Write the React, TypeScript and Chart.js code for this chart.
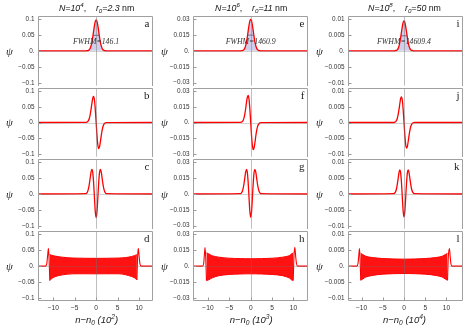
import React, { useEffect, useRef } from 'react';
import { Chart, registerables } from 'chart.js';
Chart.register(...registerables);

// ---------- data ----------
const PEAK_X = [-14, -2.4, -2.2, -2.0, -1.8, -1.6, -1.4, -1.2, -1.0, -0.8, -0.6, -0.4, -0.2, 0, 0.2, 0.4, 0.6, 0.8, 1.0, 1.2, 1.4, 1.6, 1.8, 2.0, 2.2, 2.4, 14];

const GROUND_1 = [0, 0.0001, 0.0002, 0.0005, 0.0014, 0.0035, 0.0076, 0.015, 0.026, 0.042, 0.061, 0.079, 0.092, 0.097, 0.092, 0.079, 0.061, 0.042, 0.026, 0.015, 0.0076, 0.0035, 0.0014, 0.0005, 0.0002, 0.0001, 0];
const GROUND_2 = [0, 0, 0.0001, 0.0002, 0.0004, 0.0011, 0.0023, 0.0046, 0.0081, 0.0129, 0.0186, 0.0241, 0.0282, 0.0297, 0.0282, 0.0241, 0.0186, 0.0129, 0.0081, 0.0046, 0.0023, 0.0011, 0.0004, 0.0002, 0.0001, 0, 0];
const GROUND_3 = [0, 0, 0, 0.0001, 0.0001, 0.0003, 0.0007, 0.0014, 0.0026, 0.0041, 0.0059, 0.0076, 0.0089, 0.0094, 0.0089, 0.0076, 0.0059, 0.0041, 0.0026, 0.0014, 0.0007, 0.0003, 0.0001, 0.0001, 0, 0, 0];

const FIRST_1 = [0, 0.0003, 0.0009, 0.0024, 0.0059, 0.0126, 0.024, 0.041, 0.06, 0.077, 0.083, 0.072, 0.042, 0, -0.042, -0.072, -0.083, -0.077, -0.06, -0.041, -0.024, -0.0126, -0.0059, -0.0024, -0.0009, -0.0003, 0];
const FIRST_2 = [0, 0.0001, 0.0003, 0.0008, 0.0018, 0.004, 0.0076, 0.0127, 0.0189, 0.024, 0.026, 0.0225, 0.0131, 0, -0.0131, -0.0225, -0.026, -0.024, -0.0189, -0.0127, -0.0076, -0.004, -0.0018, -0.0008, -0.0003, -0.0001, 0];
const FIRST_3 = [0, 0, 0.0001, 0.0002, 0.0006, 0.0012, 0.0024, 0.004, 0.0059, 0.0076, 0.0082, 0.0071, 0.0041, 0, -0.0041, -0.0071, -0.0082, -0.0076, -0.0059, -0.004, -0.0024, -0.0012, -0.0006, -0.0002, -0.0001, 0, 0];

const SECOND_1 = [0, 0.001, 0.003, 0.0074, 0.016, 0.03, 0.049, 0.068, 0.077, 0.069, 0.037, -0.01, -0.056, -0.074, -0.056, -0.01, 0.037, 0.069, 0.077, 0.068, 0.049, 0.03, 0.016, 0.0074, 0.003, 0.001, 0];
const SECOND_2 = [0, 0.0003, 0.0009, 0.0022, 0.0048, 0.009, 0.0146, 0.0204, 0.0233, 0.0207, 0.0111, -0.003, -0.0165, -0.022, -0.0165, -0.003, 0.0111, 0.0207, 0.0233, 0.0204, 0.0146, 0.009, 0.0048, 0.0022, 0.0009, 0.0003, 0];
const SECOND_3 = [0, 0.0001, 0.0003, 0.0007, 0.0015, 0.0029, 0.0047, 0.0066, 0.0076, 0.0067, 0.0036, -0.001, -0.0054, -0.0072, -0.0054, -0.001, 0.0036, 0.0067, 0.0076, 0.0066, 0.0047, 0.0029, 0.0015, 0.0007, 0.0003, 0.0001, 0];

// highly excited state: edge peaks + envelope of the dense oscillation
const D1_LEFT_X = [-14, -11.8, -11.5, -11.3, -11.12, -10.97, -10.8];
const D1_LEFT_Y = [0, 0, 0.008, 0.034, 0.056, 0.025, -0.045];
const D1_ENV_X = [-10.8, -10.3, -9.4, -7.8, -5.5, 0, 5.5, 6.9, 8.2, 8.9, 9.5];
const D1_UPPER = [0.036, 0.034, 0.031, 0.028, 0.0256, 0.0245, 0.0256, 0.027, 0.03, 0.033, 0.036];
const D1_LOWER = [-0.045, -0.038, -0.032, -0.027, -0.024, -0.024, -0.024, -0.027, -0.032, -0.036, -0.043];
const D1_RIGHT_X = [9.5, 9.65, 9.82, 10.0, 10.2, 10.5, 14];
const D1_RIGHT_Y = [-0.043, 0.025, 0.056, 0.034, 0.008, 0, 0];

const D2_LEFT_X = [-14, -11.3, -11.0, -10.85, -10.68, -10.52, -10.35];
const D2_LEFT_Y = [0, 0, 0.0025, 0.01, 0.0175, 0.008, -0.0135];
const D2_ENV_X = [-10.35, -9.9, -9.0, -7.5, -5, 0, 5, 7.5, 9.0, 9.5, 9.95];
const D2_UPPER = [0.0125, 0.0118, 0.0098, 0.0085, 0.0075, 0.007, 0.0075, 0.0085, 0.0098, 0.0115, 0.0125];
const D2_LOWER = [-0.0135, -0.013, -0.011, -0.009, -0.0078, -0.0072, -0.0078, -0.009, -0.011, -0.0128, -0.0135];
const D2_RIGHT_X = [9.95, 10.1, 10.32, 10.5, 10.7, 11.0, 14];
const D2_RIGHT_Y = [-0.0135, 0.008, 0.0178, 0.01, 0.0025, 0, 0];

const D3_LEFT_X = [-14, -11.1, -10.85, -10.68, -10.5, -10.35, -10.2];
const D3_LEFT_Y = [0, 0, 0.0008, 0.003, 0.0055, 0.0025, -0.0044];
const D3_ENV_X = [-10.2, -9.8, -9.0, -7.5, -5, 0, 5, 7.5, 9.0, 9.8, 10.25];
const D3_UPPER = [0.004, 0.0037, 0.0031, 0.0027, 0.0024, 0.0022, 0.0024, 0.0027, 0.0031, 0.0037, 0.004];
const D3_LOWER = [-0.0044, -0.0041, -0.0034, -0.0029, -0.0025, -0.0023, -0.0025, -0.0029, -0.0034, -0.0041, -0.0044];
const D3_RIGHT_X = [10.25, 10.42, 10.7, 10.88, 11.05, 11.3, 14];
const D3_RIGHT_Y = [-0.0044, 0.0025, 0.0055, 0.003, 0.0008, 0, 0];

const FWHM_HALF_WIDTH = [0.73, 0.73, 0.73];
const HALF_MAX = [0.0485, 0.0148, 0.0047];
const FWHM_LABELS = ['FWHM=146.1', 'FWHM=1460.9', 'FWHM=14609.4'];

const X_RANGES = [[-13.55, 13.25], [-13.5, 13.4], [-13.2, 13.9]];
const X_TICKS = [-10, -5, 0, 5, 10];
const X_TICK_LABELS = ['\u221210', '\u22125', '0', '5', '10'];

const Y_LIMITS = [0.109, 0.0328, 0.0109];
const Y_TICKS_1 = [-0.1, -0.05, 0, 0.05, 0.1];
const Y_TICKS_2 = [-0.03, -0.015, 0, 0.015, 0.03];
const Y_TICKS_3 = [-0.01, -0.005, 0, 0.005, 0.01];
const Y_TICK_LABELS_1 = ['\u22120.1', '\u22120.05', '0.', '0.05', '0.1'];
const Y_TICK_LABELS_2 = ['\u22120.03', '\u22120.015', '0.', '0.015', '0.03'];
const Y_TICK_LABELS_3 = ['\u22120.01', '\u22120.005', '0.', '0.005', '0.01'];

const TITLE_EXP = ['4', '6', '8'];
const TITLE_R0 = ['2.3', '11', '50'];
const AXIS_EXP = ['2', '3', '4'];
const PANEL_LETTERS = [['a', 'b', 'c', 'd'], ['e', 'f', 'g', 'h'], ['i', 'j', 'k', 'l']];

// ---------- layout ----------
const AREA_LEFT = [38, 193, 348];
const AREA_W = 115;
const AXIS_W = 38;
const ROW_TOP = [16, 87, 158, 230];
const ROW_H = [71, 71, 72, 71];
const PAGE_H = 329;
const XAXIS_H = 28;

const SANS = '"Liberation Sans", Arial, sans-serif';
const SERIF = '"Liberation Serif", "Times New Roman", serif';
const RED = '#ff0000';

const toPts = (xs: number[], ys: number[]) => xs.map((x, i) => ({ x, y: ys[i] }));

const COLS = [
  { ground: GROUND_1, first: FIRST_1, second: SECOND_1, lx: D1_LEFT_X, ly: D1_LEFT_Y, ex: D1_ENV_X, up: D1_UPPER, lo: D1_LOWER, rx: D1_RIGHT_X, ry: D1_RIGHT_Y, yt: Y_TICKS_1, yl: Y_TICK_LABELS_1 },
  { ground: GROUND_2, first: FIRST_2, second: SECOND_2, lx: D2_LEFT_X, ly: D2_LEFT_Y, ex: D2_ENV_X, up: D2_UPPER, lo: D2_LOWER, rx: D2_RIGHT_X, ry: D2_RIGHT_Y, yt: Y_TICKS_2, yl: Y_TICK_LABELS_2 },
  { ground: GROUND_3, first: FIRST_3, second: SECOND_3, lx: D3_LEFT_X, ly: D3_LEFT_Y, ex: D3_ENV_X, up: D3_UPPER, lo: D3_LOWER, rx: D3_RIGHT_X, ry: D3_RIGHT_Y, yt: Y_TICKS_3, yl: Y_TICK_LABELS_3 },
];

type Seg = { t: string; it?: boolean; sup?: boolean; sub?: boolean };

function drawRich(ctx: CanvasRenderingContext2D, segs: Seg[], cx: number, base: number, size: number, family: string) {
  const fontFor = (s: Seg) => `${s.it ? 'italic ' : ''}${s.sup || s.sub ? size * 0.7 : size}px ${family}`;
  const widths = segs.map((s) => {
    ctx.font = fontFor(s);
    return ctx.measureText(s.t).width;
  });
  const total = widths.reduce((a, b) => a + b, 0);
  let x = cx - total / 2;
  ctx.textAlign = 'left';
  ctx.textBaseline = 'alphabetic';
  segs.forEach((s, i) => {
    ctx.font = fontFor(s);
    const dy = s.sup ? -size * 0.4 : s.sub ? size * 0.25 : 0;
    ctx.fillText(s.t, x, base + dy);
    x += widths[i];
  });
}

function makeDeco(col: number, row: number) {
  return {
    id: 'deco',
    afterDatasetsDraw(chart: any) {
      const { ctx, chartArea: a, scales } = chart;
      const xs = scales.x;
      const ys = scales.y;
      const x0 = Math.round(xs.getPixelForValue(0)) + 0.5;
      const y0 = Math.round(ys.getPixelForValue(0)) + 0.5;
      const L = Math.round(a.left) + 0.5;
      const R = Math.round(a.right) - 0.5;
      const T = Math.round(a.top) + 0.5;
      const B = Math.round(a.bottom) - 0.5;
      ctx.save();
      ctx.lineWidth = 1;
      // axes through the origin
      ctx.strokeStyle = 'rgba(110,110,110,0.45)';
      ctx.beginPath();
      ctx.moveTo(x0, a.top);
      ctx.lineTo(x0, a.bottom);
      ctx.stroke();
      ctx.strokeStyle = 'rgba(110,110,110,0.3)';
      ctx.beginPath();
      ctx.moveTo(a.left, y0);
      ctx.lineTo(a.right, y0);
      ctx.stroke();
      // frame
      ctx.strokeStyle = '#a0a0a0';
      ctx.beginPath();
      ctx.moveTo(L, B + (row === 3 ? 0 : 0.5));
      ctx.lineTo(L, T);
      ctx.lineTo(R, T);
      ctx.lineTo(R, B + (row === 3 ? 0 : 0.5));
      if (row === 3) ctx.lineTo(L, B);
      ctx.stroke();
      // ticks inside the frame
      ctx.strokeStyle = '#999';
      COLS[col].yt.forEach((v) => {
        const p = Math.round(ys.getPixelForValue(v)) + 0.5;
        ctx.beginPath();
        ctx.moveTo(L, p);
        ctx.lineTo(L + 3, p);
        ctx.stroke();
      });
      if (row === 3) {
        X_TICKS.forEach((v) => {
          const p = Math.round(xs.getPixelForValue(v)) + 0.5;
          ctx.beginPath();
          ctx.moveTo(p, B);
          ctx.lineTo(p, B - 3);
          ctx.stroke();
        });
      }
      ctx.restore();
    },
    afterDraw(chart: any) {
      const { ctx, chartArea: a, scales } = chart;
      const xs = scales.x;
      const ys = scales.y;
      const x0 = xs.getPixelForValue(0);
      const y0 = ys.getPixelForValue(0);
      ctx.save();
      ctx.fillStyle = '#222';
      // panel letter
      ctx.font = `11px ${SERIF}`;
      ctx.textAlign = 'right';
      ctx.textBaseline = 'alphabetic';
      ctx.fillText(PANEL_LETTERS[col][row], a.right - 3.5, a.top + 10.5);
      // psi label
      ctx.font = `italic 11px ${SERIF}`;
      ctx.textAlign = 'center';
      ctx.textBaseline = 'middle';
      ctx.fillText('\u03c8', a.left - 28.7, y0 + 1);
      if (row === 0) {
        ctx.fillStyle = '#111';
        drawRich(ctx, [
          { t: 'N=10', it: true },
          { t: TITLE_EXP[col], it: true, sup: true },
          { t: ',    ' },
          { t: 'r', it: true },
          { t: '0', it: true, sub: true },
          { t: '=' + TITLE_R0[col], it: true },
          { t: ' nm' },
        ], x0 + 0.5, a.top - 5.3, 8.8, SANS);
        ctx.fillStyle = '#333';
        ctx.font = `italic 7.8px ${SERIF}`;
        ctx.textAlign = 'center';
        ctx.textBaseline = 'alphabetic';
        ctx.fillText(FWHM_LABELS[col], x0, y0 - 7.2);
      }
      if (row === 3) {
        ctx.fillStyle = '#222';
        drawRich(ctx, [
          { t: 'n\u2212n', it: true },
          { t: '0', it: true, sub: true },
          { t: ' (10', it: true },
          { t: AXIS_EXP[col], it: true, sup: true },
          { t: ')', it: true },
        ], x0 + 0.5, a.bottom + 22, 9.5, SANS);
      }
      ctx.restore();
    },
  };
}

function lineDs(points: { x: number; y: number }[], extra: any = {}) {
  return {
    data: points,
    borderColor: RED,
    borderWidth: 1.3,
    pointRadius: 0,
    cubicInterpolationMode: 'monotone',
    fill: false,
    ...extra,
  };
}

function buildDatasets(col: number, row: number) {
  const c = COLS[col];
  if (row === 0) {
    return [
      lineDs(toPts(PEAK_X, c.ground), { fill: 'origin', backgroundColor: 'rgba(160,160,215,0.5)' }),
      {
        data: [
          { x: -FWHM_HALF_WIDTH[col], y: HALF_MAX[col] },
          { x: FWHM_HALF_WIDTH[col], y: HALF_MAX[col] },
        ],
        borderColor: '#333',
        borderWidth: 0.9,
        pointRadius: 0,
        fill: false,
      },
    ];
  }
  if (row === 1) return [lineDs(toPts(PEAK_X, c.first))];
  if (row === 2) return [lineDs(toPts(PEAK_X, c.second))];
  return [
    lineDs(toPts(c.ex, c.up), { fill: '+1', backgroundColor: 'rgba(255,0,0,0.93)', borderWidth: 1, cubicInterpolationMode: 'default', tension: 0.3 }),
    lineDs(toPts(c.ex, c.lo), { borderWidth: 1, cubicInterpolationMode: 'default', tension: 0.3 }),
    lineDs(toPts(c.lx, c.ly), { borderWidth: 1.1 }),
    lineDs(toPts(c.rx, c.ry), { borderWidth: 1.1 }),
  ];
}

function geometry(col: number, row: number) {
  const left = AREA_LEFT[col] - AXIS_W;
  const top = row === 0 ? 0 : ROW_TOP[row] - 6;
  const w = AXIS_W + AREA_W + 5;
  const h = row === 3 ? PAGE_H - top : ROW_TOP[row] + ROW_H[row] + 6 - top;
  const padTop = ROW_TOP[row] - top;
  const padBottom = row === 3 ? PAGE_H - (ROW_TOP[row] + ROW_H[row]) - XAXIS_H : 6;
  return { left, top, w, h, padTop, padBottom };
}

function Panel({ col, row }: { col: number; row: number }) {
  const ref = useRef<HTMLCanvasElement>(null);
  const g = geometry(col, row);
  useEffect(() => {
    const c = COLS[col];
    const chart = new Chart(ref.current as HTMLCanvasElement, {
      type: 'line',
      data: { datasets: buildDatasets(col, row) as any },
      options: {
        animation: false,
        responsive: false,
        devicePixelRatio: 1,
        events: [],
        layout: { padding: { left: 0, right: 5, top: g.padTop, bottom: g.padBottom } },
        plugins: { legend: { display: false }, tooltip: { enabled: false }, title: { display: false } },
        scales: {
          x: {
            type: 'linear',
            min: X_RANGES[col][0],
            max: X_RANGES[col][1],
            display: row === 3,
            grid: { display: false, drawTicks: false },
            border: { display: false },
            afterBuildTicks: (s: any) => {
              s.ticks = X_TICKS.map((v) => ({ value: v }));
            },
            afterFit: (s: any) => {
              s.height = row === 3 ? XAXIS_H : 0;
            },
            ticks: {
              autoSkip: false,
              maxRotation: 0,
              padding: 3,
              color: '#333',
              font: { size: 6.6, family: SANS },
              callback: (v: any) => X_TICK_LABELS[X_TICKS.indexOf(Number(v))] ?? '',
            },
          },
          y: {
            type: 'linear',
            min: -Y_LIMITS[col],
            max: Y_LIMITS[col],
            grid: { display: false, drawTicks: false },
            border: { display: false },
            afterBuildTicks: (s: any) => {
              s.ticks = c.yt.map((v) => ({ value: v }));
            },
            afterFit: (s: any) => {
              s.width = AXIS_W;
            },
            ticks: {
              autoSkip: false,
              padding: 3.5,
              color: '#333',
              font: { size: 6.4, family: SANS },
              callback: (v: any) => {
                const i = c.yt.findIndex((t) => Math.abs(t - Number(v)) < 1e-9);
                return i >= 0 ? c.yl[i] : '';
              },
            },
          },
        },
      } as any,
      plugins: [makeDeco(col, row)],
    });
    return () => chart.destroy();
  }, [col, row]);
  return (
    <canvas
      ref={ref}
      width={g.w}
      height={g.h}
      style={{ position: 'absolute', left: g.left, top: g.top, width: g.w, height: g.h }}
    />
  );
}

export default function App() {
  const panels = [];
  for (let col = 0; col < 3; col++) {
    for (let row = 0; row < 4; row++) {
      panels.push(<Panel key={`${col}-${row}`} col={col} row={row} />);
    }
  }
  return (
    <div
      style={{
        position: 'fixed',
        left: 0,
        top: 0,
        width: 463,
        height: 329,
        overflow: 'hidden',
        background: '#fff',
      }}
    >
      {panels}
    </div>
  );
}
